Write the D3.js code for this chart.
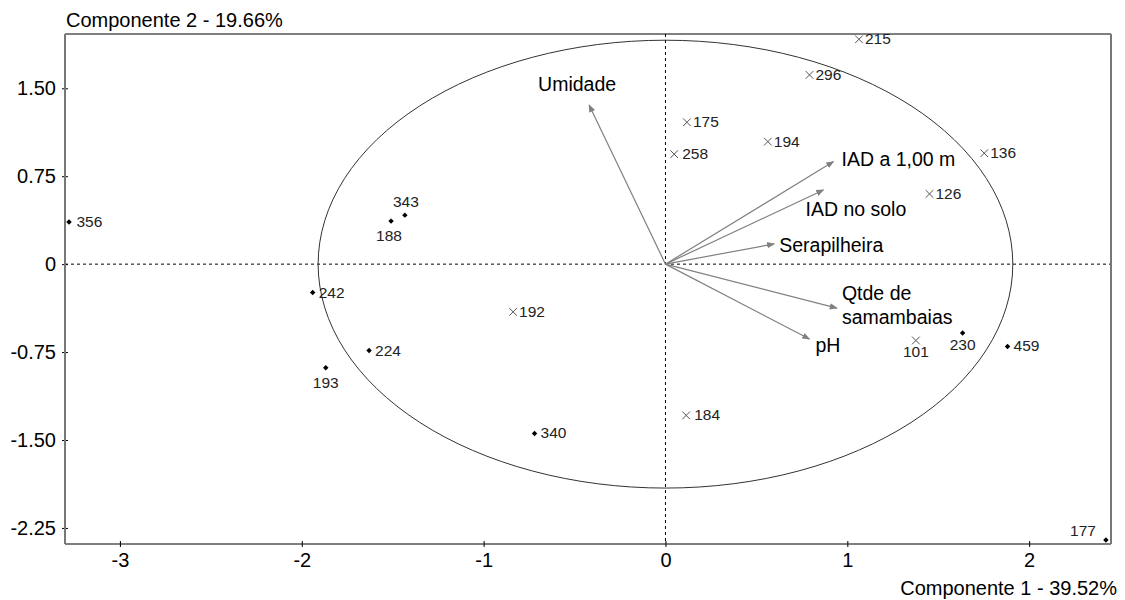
<!DOCTYPE html>
<html>
<head>
<meta charset="utf-8">
<script src="https://cdn.jsdelivr.net/npm/d3@7.9.0/dist/d3.min.js"></script>
<style>
  body { margin: 0; background: #fff; }
  svg { display: block; font-family: "Liberation Sans", Arial, sans-serif; }
</style>
</head>
<body>
<svg id="chart" width="1125" height="600"></svg>
<script>
// sample scores (PC1, PC2)
const ids   = ['356', '343', '188', '242', '224', '193', '340', '177', '230', '459',
               '192', '184', '175', '258', '194', '296', '215', '136', '126', '101'];
const pc1   = [-3.28, -1.433, -1.509, -1.94, -1.63, -1.868, -0.72, 2.422, 1.634, 1.881,
               -0.838, 0.114, 0.118, 0.048, 0.563, 0.792, 1.064, 1.753, 1.452, 1.377];
const pc2   = [0.36, 0.418, 0.367, -0.242, -0.737, -0.884, -1.444, -2.353, -0.588, -0.702,
               -0.407, -1.29, 1.21, 0.938, 1.045, 1.614, 1.918, 0.946, 0.599, -0.651];
const group = ['d', 'd', 'd', 'd', 'd', 'd', 'd', 'd', 'd', 'd',
               'x', 'x', 'x', 'x', 'x', 'x', 'x', 'x', 'x', 'x'];

// variable loadings
const varNames = ['Umidade', 'IAD a 1,00 m', 'IAD no solo', 'Serapilheira', 'Qtde de|samambaias', 'pH'];
const varX     = [-0.42, 0.924, 0.869, 0.598, 0.943, 0.792];
const varY     = [1.358, 0.875, 0.633, 0.173, -0.375, -0.639];

const circleRadius = 1.91;
const xTicks = [-3, -2, -1, 0, 1, 2];
const xTickLabels = ['-3', '-2', '-1', '0', '1', '2'];
const yTicks = [-2.25, -1.5, -0.75, 0, 0.75, 1.5];
const yTickLabels = ['-2.25', '-1.50', '-0.75', '0', '0.75', '1.50'];
const xTitle = 'Componente 1 - 39.52%';
const yTitle = 'Componente 2 - 19.66%';

const W = 1125, H = 600;
const pLeft = 65, pRight = 1111, pTop = 34, pBottom = 544;

const x = d3.scaleLinear().domain([-3.302, 2.45]).range([pLeft, pRight]);
const y = d3.scaleLinear().domain([-2.387, 1.963]).range([pBottom, pTop]);

const svg = d3.select('#chart');

svg.append('defs').append('marker')
    .attr('id', 'head')
    .attr('viewBox', '0 0 10 10')
    .attr('refX', 9).attr('refY', 5)
    .attr('markerWidth', 8).attr('markerHeight', 8)
    .attr('markerUnits', 'userSpaceOnUse')
    .attr('orient', 'auto')
  .append('path')
    .attr('d', 'M0,1L10,5L0,9Z')
    .attr('fill', '#808080');

// zero lines
svg.append('line')
    .attr('x1', x(0)).attr('x2', x(0)).attr('y1', pTop).attr('y2', pBottom)
    .attr('stroke', '#000').attr('stroke-dasharray', '3,3');
svg.append('line')
    .attr('x1', pLeft).attr('x2', pRight).attr('y1', y(0)).attr('y2', y(0))
    .attr('stroke', '#000').attr('stroke-dasharray', '3,3');

// correlation circle
svg.append('ellipse')
    .attr('cx', x(0)).attr('cy', y(0))
    .attr('rx', x(circleRadius) - x(0))
    .attr('ry', y(0) - y(circleRadius))
    .attr('fill', 'none').attr('stroke', '#333').attr('stroke-width', 1);

// axes
const xAxis = svg.append('g')
    .attr('transform', `translate(0,${pBottom})`)
    .call(d3.axisBottom(x).tickValues(xTicks).tickFormat((d, i) => xTickLabels[i])
      .tickSizeOuter(0).tickSizeInner(3).tickPadding(6));
const yAxis = svg.append('g')
    .attr('transform', `translate(${pLeft},0)`)
    .call(d3.axisLeft(y).tickValues(yTicks).tickFormat((d, i) => yTickLabels[i])
      .tickSizeOuter(0).tickSizeInner(3).tickPadding(6));

[xAxis, yAxis].forEach(g => {
  g.select('.domain').remove();
  g.selectAll('text').attr('font-size', 20).attr('fill', '#000')
    .attr('font-family', '"Liberation Sans", Arial, sans-serif');
  g.selectAll('.tick line').attr('stroke', '#000');
});
xAxis.selectAll('.tick line').attr('y1', -3).attr('y2', 3);
yAxis.selectAll('.tick line').attr('x1', 3).attr('x2', -3);

// frame
svg.append('line').attr('x1', pLeft).attr('x2', pRight).attr('y1', pTop).attr('y2', pTop)
    .attr('stroke', '#000');
svg.append('line').attr('x1', pLeft).attr('x2', pRight).attr('y1', pBottom).attr('y2', pBottom)
    .attr('stroke', '#000');
svg.append('line').attr('x1', pLeft).attr('x2', pLeft).attr('y1', pTop).attr('y2', pBottom)
    .attr('stroke', '#777').attr('stroke-width', 2);
svg.append('line').attr('x1', pRight).attr('x2', pRight).attr('y1', pTop).attr('y2', pBottom)
    .attr('stroke', '#777').attr('stroke-width', 2);

// axis titles
svg.append('text').attr('x', 66).attr('y', 27)
    .attr('font-size', 20).text(yTitle);
svg.append('text').attr('x', W - 8).attr('y', 595)
    .attr('text-anchor', 'end').attr('font-size', 20).text(xTitle);

// loadings arrows
const varLabel = {
  'Umidade': { dx: -12, dy: -14, anchor: 'middle' },
  'IAD a 1,00 m': { dx: 8, dy: 4 },
  'IAD no solo': { dx: -18, dy: 26 },
  'Serapilheira': { dx: 5, dy: 8 },
  'Qtde de|samambaias': { dx: 5, dy: -8 },
  'pH': { dx: 6, dy: 13 }
};
varNames.forEach((name, i) => {
  const tx = x(varX[i]), ty = y(varY[i]);
  svg.append('line')
      .attr('x1', x(0)).attr('y1', y(0)).attr('x2', tx).attr('y2', ty)
      .attr('stroke', '#808080').attr('stroke-width', 1.2)
      .attr('marker-end', 'url(#head)');
  const o = varLabel[name];
  const t = svg.append('text')
      .attr('x', tx + o.dx).attr('y', ty + o.dy)
      .attr('font-size', 19.5)
      .attr('text-anchor', o.anchor || 'start');
  name.split('|').forEach((line, j) => {
    t.append('tspan').attr('x', tx + o.dx).attr('dy', j === 0 ? 0 : 23.5).text(line);
  });
});

// sample points
const diamond = d3.symbol().type(d3.symbolDiamond2).size(19);
const times = d3.symbol().type(d3.symbolTimes || d3.symbolCross).size(40);

ids.forEach((id, i) => {
  const px = x(pc1[i]), py = y(pc2[i]);
  if (group[i] === 'd') {
    svg.append('path').attr('d', diamond())
      .attr('transform', `translate(${px},${py})`).attr('fill', '#000');
  } else {
    svg.append('path').attr('d', times())
      .attr('transform', `translate(${px},${py})`)
      .attr('fill', 'none').attr('stroke', '#555').attr('stroke-width', 1);
  }
});

// point labels
const labelAt = {
  '343': { dx: 1, dy: -8, anchor: 'middle' },
  '188': { dx: -2, dy: 20, anchor: 'middle' },
  '193': { dx: 0, dy: 20, anchor: 'middle' },
  '230': { dx: 0, dy: 17, anchor: 'middle' },
  '101': { dx: 0, dy: 17, anchor: 'middle' },
  '177': { dx: -10, dy: -4, anchor: 'end' },
  '258': { dx: 8, dy: 5 },
  '184': { dx: 8, dy: 5 },
  '356': { dx: 7.5, dy: 5 }
};
ids.forEach((id, i) => {
  const o = labelAt[id] || { dx: 6, dy: 5 };
  svg.append('text')
      .attr('x', x(pc1[i]) + o.dx).attr('y', y(pc2[i]) + o.dy)
      .attr('font-size', 15.5).attr('fill', '#222')
      .attr('text-anchor', o.anchor || 'start')
      .text(id);
});
</script>
</body>
</html>
